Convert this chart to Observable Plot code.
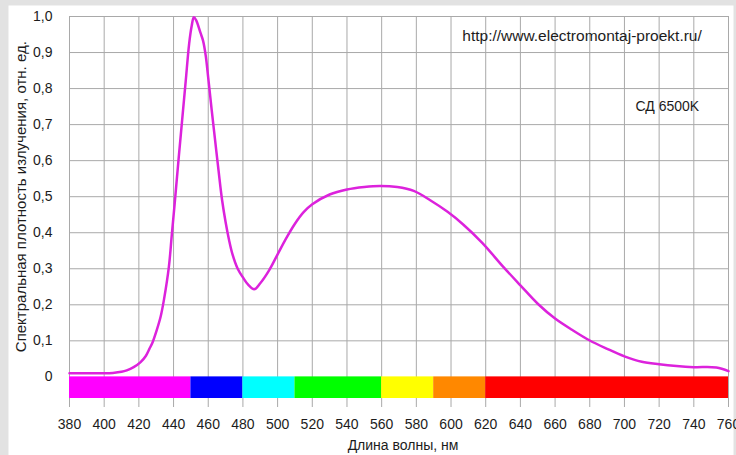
<!DOCTYPE html>
<html><head><meta charset="utf-8">
<script src="https://cdn.jsdelivr.net/npm/d3@7"></script>
<script src="https://cdn.jsdelivr.net/npm/@observablehq/plot@0.6"></script>
<style>
html,body{margin:0;padding:0;background:#e2e2e2;}
#chart{width:736px;height:455px;}
</style></head><body><div id="chart"></div>
<script>
// Spectral bands (nm) and their colours
const bandStart = [380, 450, 480, 510, 560, 590, 620];
const bandEnd   = [450, 480, 510, 560, 590, 620, 760];
const bandColor = ["#ff00ff", "#0000ff", "#00ffff", "#00ff00", "#ffff00", "#ff8800", "#ff0000"];
const bandBottom = -0.06;

// Spectrum of LED 6500K (relative units)
const wavelength = [380, 390, 400, 405, 410, 413, 417, 421, 424, 426, 428, 430, 432.5, 434.5, 437.3, 439, 441, 443, 445, 447, 449, 450.5, 451.7, 453, 455.5, 457, 458.5, 460, 462, 464, 466, 468, 470, 472, 474, 477, 480, 483, 486.5, 490, 495, 500, 505, 510, 515, 520, 530, 540, 550, 559, 569, 578.5, 588, 598, 607, 618, 630, 640, 650, 660, 670, 680, 690, 700, 710, 720, 730, 740, 753, 760];
const intensity  = [0.010, 0.010, 0.010, 0.011, 0.014, 0.018, 0.027, 0.041, 0.058, 0.077, 0.097, 0.125, 0.166, 0.215, 0.305, 0.395, 0.50, 0.61, 0.715, 0.82, 0.925, 0.975, 0.998, 0.99, 0.955, 0.933, 0.893, 0.83, 0.74, 0.655, 0.57, 0.49, 0.43, 0.38, 0.34, 0.30, 0.276, 0.256, 0.243, 0.26, 0.295, 0.34, 0.385, 0.425, 0.457, 0.479, 0.506, 0.52, 0.527, 0.53, 0.527, 0.516, 0.49, 0.458, 0.423, 0.372, 0.306, 0.254, 0.203, 0.162, 0.13, 0.101, 0.078, 0.057, 0.042, 0.035, 0.030, 0.027, 0.026, 0.016];

const xTicks = [380, 400, 420, 440, 460, 480, 500, 520, 540, 560, 580, 600, 620, 640, 660, 680, 700, 720, 740, 760];
const yTicks = [0, 0.1, 0.2, 0.3, 0.4, 0.5, 0.6, 0.7, 0.8, 0.9, 1.0];

const xTitle = "Длина волны, нм";
const yTitle = "Спектральная плотность излучения, отн. ед.";
const urlText = "http://www.electromontaj-proekt.ru/";
const ledText = "СД 6500K";

const bands = bandStart.map((s, i) => ({start: s, end: bandEnd[i], color: bandColor[i]}));
const spectrum = wavelength.map((w, i) => ({wl: w, v: intensity[i]}));

const grid = "#a9a9a9";
const ink = "#1c1c1c";

const chart = Plot.plot({
  width: 736, height: 455,
  marginLeft: 69, marginRight: 8, marginTop: 16, marginBottom: 57,
  style: {fontFamily: "'Liberation Sans', Arial, sans-serif", fontSize: "14px", color: ink, background: "transparent"},
  x: {domain: [380, 760], label: null},
  y: {domain: [bandBottom, 1.0], label: null},
  marks: [
    Plot.frame({fill: "white", stroke: null, insetLeft: -61, insetTop: -11, insetRight: -5, insetBottom: -57}),
    Plot.gridX(xTicks, {stroke: grid, strokeOpacity: 1, strokeWidth: 1}),
    Plot.gridY(yTicks.filter(d => d > 0), {stroke: grid, strokeOpacity: 1, strokeWidth: 1}),
    Plot.rect(bands, {x1: "start", x2: "end", y1: () => bandBottom, y2: () => 0, fill: "color", inset: 0}),
    Plot.line(spectrum, {x: "wl", y: "v", stroke: "#dc22dc", strokeWidth: 2.5, curve: "catmull-rom"}),
    Plot.axisX(xTicks, {tickSize: 9, tickPadding: 12, stroke: grid, fill: ink, fontSize: 14, label: null}),
    Plot.axisY(yTicks, {tickSize: 0, tickPadding: 17, fill: ink, fontSize: 14, label: null,
      tickFormat: d => d === 0 ? "0" : d.toFixed(1).replace(".", ",")}),
    Plot.text([yTitle], {y: () => 0.5, frameAnchor: "left", dx: -48, rotate: -90, text: d => d, fontSize: 15, fill: ink, textAnchor: "middle", lineAnchor: "middle"}),
    Plot.text([xTitle], {frameAnchor: "bottom", dy: 47, dx: 4, text: d => d, fontSize: 14, fill: ink, lineAnchor: "middle"}),
    Plot.text([urlText], {x: () => 606.5, y: () => 0.946, text: d => d, textAnchor: "start", fontSize: 15.5, fill: ink}),
    Plot.text([ledText], {x: () => 706.4, y: () => 0.751, text: d => d, textAnchor: "start", fontSize: 14, fill: ink})
  ]
});
document.getElementById("chart").appendChild(chart);
</script>
</body></html>
